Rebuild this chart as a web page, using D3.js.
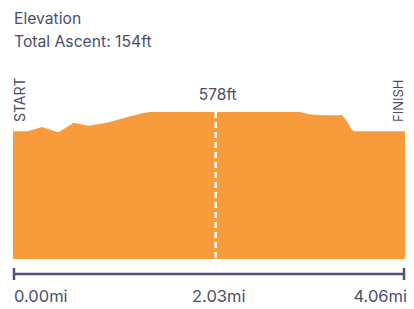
<!DOCTYPE html>
<html>
<head>
<meta charset="utf-8">
<script src="https://d3js.org/d3.v7.min.js"></script>
<style>
  body { margin: 0; background: #fff; font-family: 'Inter', sans-serif; }
  text { fill: #4b4e6b; }
</style>
</head>
<body>
<div id="chart"></div>
<script>
// elevation profile (miles, feet)
const distMi = [0, 0.15, 0.30, 0.47, 0.63, 0.78, 0.97, 1.18, 1.35, 1.42, 2.97, 3.07, 3.21, 3.41, 3.46, 3.51, 3.54, 4.06]
const elevFt = [560, 560, 564, 559, 568, 565, 568, 573, 577, 578, 578, 576, 575, 575, 569, 561, 560, 560]
const title = 'Elevation'
const ascent = 'Total Ascent: 154ft'
const peakLabel = '578ft'
const markerMi = 2.10
const tickLabels = ['0.00mi', '2.03mi', '4.06mi']
const totalMi = 4.06

const W = 414, H = 309
const m = {left: 13, right: 405, top: 112, bottom: 259}

const svg = d3.select('#chart').append('svg')
  .attr('width', W).attr('height', H)

const x = d3.scaleLinear().domain([0, totalMi]).range([m.left, m.right])
const y = d3.scaleLinear().domain([440, 578]).range([m.bottom, m.top])

const pts = distMi.map((d, i) => ({d: d, e: elevFt[i]}))

const area = d3.area()
  .x(p => x(p.d))
  .y0(m.bottom)
  .y1(p => y(p.e))

svg.append('path')
  .datum(pts)
  .attr('fill', '#f89c3b')
  .attr('d', area)

// dashed marker
svg.append('line')
  .attr('x1', x(markerMi)).attr('x2', x(markerMi))
  .attr('y1', y(578)).attr('y2', m.bottom)
  .attr('stroke', '#fff')
  .attr('stroke-width', 2.5)
  .attr('stroke-dasharray', '6,4')

svg.append('text')
  .attr('x', x(markerMi) + 2).attr('y', 100)
  .attr('text-anchor', 'middle')
  .style('font-size', '15.5px')
  .text(peakLabel)

// header
svg.append('text').attr('x', 14).attr('y', 24)
  .style('font-size', '15.7px').text(title)
svg.append('text').attr('x', 14).attr('y', 47)
  .style('font-size', '15.7px').text(ascent)

// start / finish
svg.append('text')
  .attr('transform', `translate(25,122) rotate(-90)`)
  .style('font-size', '14px').text('START')
svg.append('text')
  .attr('transform', `translate(403,122) rotate(-90)`)
  .style('font-size', '13px').text('FINISH')

// distance scale bar
const axisY = 274
const g = svg.append('g').attr('stroke', '#4f5273').attr('stroke-width', 2.5)
g.append('line').attr('x1', x(0)).attr('x2', x(totalMi)).attr('y1', axisY).attr('y2', axisY)
g.append('line').attr('x1', x(0) + 1).attr('x2', x(0) + 1).attr('y1', axisY - 6).attr('y2', axisY + 6)
g.append('line').attr('x1', x(totalMi) - 1).attr('x2', x(totalMi) - 1).attr('y1', axisY - 6).attr('y2', axisY + 6)

const tickPos = [0, markerMi, totalMi]
const anchors = ['start', 'middle', 'end']
svg.selectAll('.tl').data(tickLabels).enter().append('text')
  .attr('class', 'tl')
  .attr('x', (d, i) => x(tickPos[i]) + (i === 1 ? 3 : i === 2 ? 2 : 1))
  .attr('y', 302)
  .attr('text-anchor', (d, i) => anchors[i])
  .style('font-size', '16.5px')
  .text(d => d)
</script>
</body>
</html>
